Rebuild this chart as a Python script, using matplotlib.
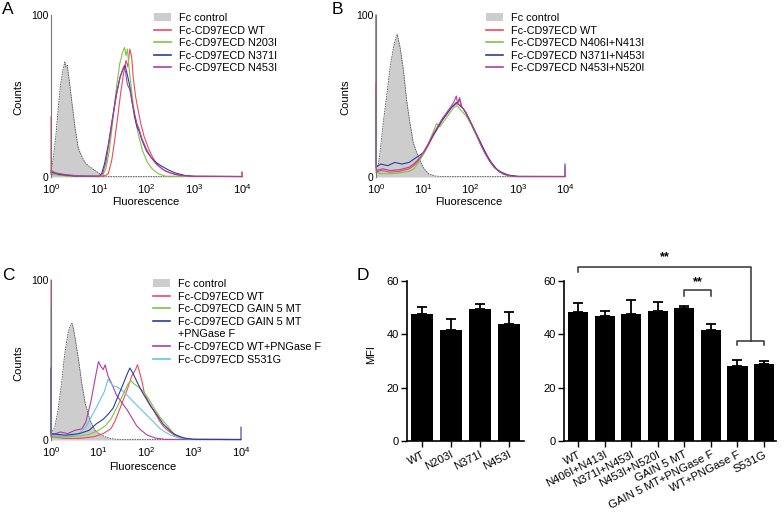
import matplotlib
matplotlib.use('Agg')
import matplotlib.pyplot as plt
from matplotlib.patches import Patch
from matplotlib.lines import Line2D
import numpy as np

plt.rcParams['font.family'] = ['Liberation Sans', 'DejaVu Sans']
plt.rcParams['mathtext.fontset'] = 'custom'
plt.rcParams['mathtext.rm'] = 'Liberation Sans'

# ---- flow histograms as (log10 fluorescence, counts) ----
A_CTRL = [(0, 3), (0.05, 12), (0.1, 25), (0.15, 42), (0.2, 57), (0.25, 66), (0.29, 71), (0.31, 68),
          (0.34, 69), (0.38, 60), (0.43, 48), (0.5, 31), (0.57, 18), (0.64, 13), (0.71, 9), (0.8, 6.5),
          (0.92, 4), (1.02, 2.2), (1.12, 0.7), (1.2, 0.3), (4.0, 0.3)]
A_WT = [(0, 37), (0, 1.5), (0.15, 1.5), (0.3, 0.8), (0.6, 0.4), (1.1, 0.3), (1.2, 2), (1.27, 10), (1.33, 22),
        (1.4, 38), (1.46, 52), (1.52, 64), (1.57, 72), (1.61, 68), (1.65, 79), (1.69, 74), (1.72, 62),
        (1.77, 50), (1.82, 42), (1.88, 33), (1.95, 25), (2.05, 17), (2.15, 11), (2.25, 7), (2.4, 3.5),
        (2.6, 1.5), (2.9, 0.4), (4.0, 0.3), (4.0, 3)]
A_N203I = [(0, 2), (0.2, 1), (0.5, 0.4), (1.0, 0.3), (1.08, 1), (1.15, 5), (1.22, 16), (1.3, 36), (1.37, 55),
           (1.44, 70), (1.5, 77), (1.54, 80), (1.57, 75), (1.6, 79), (1.64, 66), (1.7, 50), (1.76, 37),
           (1.83, 26), (1.92, 16), (2.02, 9), (2.12, 5), (2.25, 2), (2.4, 0.5), (4.0, 0.3)]
A_N371I = [(0, 3), (0.2, 1.5), (0.5, 0.6), (1.0, 0.5), (1.06, 2), (1.12, 8), (1.2, 20), (1.28, 35), (1.36, 50),
           (1.44, 61), (1.5, 66), (1.55, 69), (1.6, 63), (1.65, 56), (1.7, 46), (1.75, 37), (1.8, 31),
           (1.85, 28), (1.9, 23), (2.0, 16), (2.1, 12), (2.2, 9), (2.3, 7), (2.45, 4.5), (2.6, 2.5),
           (2.8, 1), (3.0, 0.4), (4.0, 0.3)]
A_N453I = [(0, 4), (0.1, 2.5), (0.3, 1.5), (0.6, 0.6), (1.0, 0.4), (1.08, 2), (1.15, 9), (1.22, 22), (1.3, 38),
           (1.38, 52), (1.45, 62), (1.52, 68), (1.56, 65), (1.6, 57), (1.65, 54), (1.7, 46), (1.75, 39),
           (1.8, 33), (1.85, 29), (1.9, 24), (2.0, 17), (2.1, 12), (2.2, 8), (2.35, 4.5), (2.5, 2.5),
           (2.7, 1), (3.0, 0.4), (4.0, 0.3), (4.0, 3)]

B_CTRL = [(0, 5), (0.05, 8), (0.08, 14), (0.16, 35), (0.23, 51), (0.3, 68), (0.37, 80), (0.42, 86), (0.45, 88),
          (0.48, 84), (0.51, 80), (0.58, 66), (0.65, 47), (0.72, 33), (0.79, 21), (0.9, 12), (1.0, 6),
          (1.11, 2), (1.25, 0.6), (1.4, 0.3), (4.0, 0.3)]
B_WT = [(0, 3), (0.1, 4), (0.3, 3), (0.5, 3.5), (0.7, 5), (0.8, 7), (0.9, 10), (1.0, 14), (1.1, 19), (1.2, 25),
        (1.3, 30), (1.4, 35), (1.5, 39), (1.6, 43), (1.7, 45), (1.76, 48), (1.8, 44), (1.9, 40), (2.0, 34),
        (2.1, 28), (2.2, 22), (2.3, 16), (2.4, 11), (2.5, 6.5), (2.6, 3.5), (2.7, 1.8), (2.85, 0.7),
        (3.0, 0.3), (4.0, 0.3)]
B_N406I_N413I = [(0, 3), (0.1, 2), (0.3, 2), (0.5, 2.5), (0.7, 3.5), (0.8, 5), (0.9, 9), (1.0, 14), (1.1, 20),
                 (1.2, 27), (1.28, 33), (1.35, 31), (1.45, 35), (1.55, 39), (1.65, 43), (1.72, 44), (1.8, 41),
                 (1.9, 38), (2.0, 33), (2.1, 27), (2.2, 21), (2.3, 15), (2.4, 10), (2.5, 6), (2.6, 3.5),
                 (2.7, 1.6), (2.85, 0.6), (3.0, 0.3), (4.0, 0.3)]
B_N371I_N453I = [(0, 100), (0, 6), (0.1, 8), (0.25, 7), (0.4, 9), (0.55, 8), (0.7, 9), (0.8, 11), (0.9, 13),
                 (1.0, 15), (1.1, 20), (1.2, 25), (1.3, 30), (1.4, 35), (1.5, 39), (1.6, 43), (1.7, 46),
                 (1.78, 44), (1.85, 42), (1.95, 37), (2.05, 31), (2.15, 25), (2.25, 19), (2.35, 13),
                 (2.45, 8.5), (2.55, 5), (2.65, 3), (2.8, 1.2), (3.0, 0.4), (4.0, 0.3), (4.0, 8)]
B_N453I_N520I = [(0, 58), (0, 4), (0.15, 5), (0.3, 4), (0.5, 4.5), (0.7, 6), (0.8, 8), (0.9, 11), (1.0, 15),
                 (1.1, 20), (1.2, 26), (1.3, 31), (1.4, 36), (1.5, 40), (1.6, 44), (1.66, 47), (1.7, 50),
                 (1.73, 45), (1.77, 49), (1.82, 43), (1.9, 40), (2.0, 34), (2.1, 28), (2.2, 21), (2.3, 15),
                 (2.4, 10), (2.5, 6), (2.6, 3.5), (2.7, 1.8), (2.85, 0.6), (3.0, 0.3), (4.0, 0.3), (4.0, 6)]

C_CTRL = [(0, 4), (0.08, 8), (0.15, 19), (0.22, 35), (0.29, 54), (0.36, 67), (0.4, 71), (0.44, 73), (0.47, 70),
          (0.5, 65), (0.58, 50), (0.65, 35), (0.72, 23), (0.82, 12.5), (0.93, 6), (1.03, 3.7), (1.14, 2),
          (1.24, 1), (1.38, 0.4), (4.0, 0.3)]
C_WT = [(0, 100), (0, 2), (0.3, 1), (0.6, 1), (0.9, 2), (1.1, 4), (1.26, 7), (1.35, 12), (1.43, 18), (1.52, 25),
        (1.61, 32), (1.7, 40), (1.78, 44), (1.82, 47), (1.86, 43), (1.92, 36), (1.96, 30), (2.05, 24),
        (2.17, 18), (2.28, 12), (2.38, 8), (2.5, 5), (2.6, 3), (2.8, 1.2), (3.0, 0.4), (4.0, 0.3)]
C_GAIN5 = [(0, 2), (0.3, 2), (0.6, 2.5), (0.8, 3.5), (1.0, 6), (1.15, 9), (1.26, 13), (1.4, 21), (1.54, 30),
           (1.62, 35), (1.68, 37), (1.75, 35), (1.85, 33), (1.95, 30), (2.05, 26), (2.17, 20), (2.3, 14),
           (2.45, 9), (2.55, 5), (2.66, 2), (2.8, 0.8), (3.0, 0.3), (4.0, 0.3)]
C_GAIN5_PNG = [(0, 45), (0, 4), (0.3, 3), (0.6, 4), (0.8, 6), (0.95, 10), (1.1, 13), (1.2, 16), (1.31, 20),
               (1.42, 28), (1.52, 35), (1.6, 41), (1.66, 45), (1.72, 42), (1.8, 37), (1.9, 31), (2.0, 26),
               (2.1, 21), (2.2, 17), (2.36, 10), (2.5, 6), (2.6, 3.5), (2.8, 1.2), (3.0, 0.4), (4.0, 0.3),
               (4.0, 8)]
C_WT_PNG = [(0, 3), (0.2, 5), (0.35, 4), (0.5, 6), (0.65, 7), (0.73, 11), (0.84, 24), (0.94, 40), (1.0, 49),
            (1.05, 46), (1.1, 44), (1.14, 47), (1.2, 40), (1.28, 35), (1.38, 28), (1.5, 23), (1.6, 19),
            (1.7, 14), (1.8, 9), (1.9, 6), (2.03, 3), (2.2, 1.2), (2.4, 0.4), (4.0, 0.3)]
C_S531G = [(0, 83), (0, 3), (0.3, 2.5), (0.5, 3), (0.63, 5), (0.75, 9), (0.84, 14), (0.95, 20), (1.05, 26),
           (1.12, 30), (1.2, 38), (1.25, 36), (1.3, 34), (1.4, 33), (1.5, 31), (1.6, 28), (1.7, 25), (1.8, 22),
           (1.9, 19), (2.0, 16), (2.1, 13), (2.2, 10), (2.3, 7), (2.4, 5), (2.52, 3), (2.7, 1.2), (3.0, 0.4),
           (4.0, 0.3)]

A_LABELS = ['Fc control', 'Fc-CD97ECD WT', 'Fc-CD97ECD N203I', 'Fc-CD97ECD N371I', 'Fc-CD97ECD N453I']
B_LABELS = ['Fc control', 'Fc-CD97ECD WT', 'Fc-CD97ECD N406I+N413I', 'Fc-CD97ECD N371I+N453I',
            'Fc-CD97ECD N453I+N520I']
C_LABELS = ['Fc control', 'Fc-CD97ECD WT', 'Fc-CD97ECD GAIN 5 MT', 'Fc-CD97ECD GAIN 5 MT',
            '+PNGase F', 'Fc-CD97ECD WT+PNGase F', 'Fc-CD97ECD S531G']

# ---- MFI bars (panel D) ----
D_LEFT_CATS = ['WT', 'N203I', 'N371I', 'N453I']
D_LEFT_MFI = [47.5, 41.8, 49.6, 43.9]
D_LEFT_ERR = [2.9, 4.1, 1.8, 4.5]
D_RIGHT_CATS = ['WT', 'N406I+N413I', 'N371I+N453I', 'N453I+N520I', 'GAIN 5 MT',
                'GAIN 5 MT+PNGase F', 'WT+PNGase F', 'S531G']
D_RIGHT_MFI = [48.4, 46.9, 47.5, 48.6, 50.0, 41.5, 28.1, 28.9]
D_RIGHT_ERR = [3.4, 1.9, 5.3, 3.4, 0.75, 2.2, 2.1, 1.1]

RED = '#ee4a5c'
GREEN = '#80c441'
BLUE = '#2e3c9c'
MAGENTA = '#b43c9e'
CYAN = '#62c6e6'
CTRL_FILL = '#cdcdcd'

W, H = 784, 515
fig = plt.figure(figsize=(W / 100, H / 100), dpi=100)


def box(l, t, r, b):
    return [l / W, 1 - b / H, (r - l) / W, (b - t) / H]


def fxy(x, y):
    return x / W, 1 - y / H


def histo(ax, ctrl, traces, colors):
    lx, c = np.array(ctrl).T
    ax.fill_between(10 ** lx, c, color=CTRL_FILL, lw=0)
    ax.plot(10 ** lx, c, color='#555555', lw=0.6, ls=(0, (2, 1)))
    for tr, col in zip(traces, colors):
        lx, c = np.array(tr).T
        ax.plot(10 ** lx, c, color=col, lw=0.8, clip_on=False)
    ax.set_xscale('log')
    ax.set_xlim(1, 1e4)
    ax.set_ylim(0, 100)
    ax.set_xticks([1, 10, 100, 1000, 10000])
    ax.set_xticklabels([r'$\mathregular{10^{%d}}$' % i for i in range(5)])
    ax.minorticks_off()
    ax.set_yticks([0, 100])
    ax.tick_params(axis='x', length=0, labelsize=8, pad=4)
    ax.tick_params(axis='y', length=0, labelsize=7.5, pad=2)
    for s in ['top', 'right', 'bottom']:
        ax.spines[s].set_visible(False)
    ax.spines['left'].set_color('#777777')
    ax.spines['left'].set_linewidth(0.8)


def legend(ax, labels, colors, x, y, blank=None):
    handles = [Patch(facecolor=CTRL_FILL, edgecolor='none')]
    for c in colors:
        handles.append(Line2D([], [], color=c, lw=1.2))
    if blank is not None:
        handles.insert(blank, Line2D([], [], color='none'))
    ax.legend(handles, labels, loc='upper left', bbox_to_anchor=fxy(x, y),
              bbox_transform=fig.transFigure, frameon=False, fontsize=7.8,
              handlelength=1.6, handleheight=0.8, handletextpad=0.7,
              labelspacing=0.24, borderpad=0, borderaxespad=0)


# A
axA = fig.add_axes(box(51, 15, 242, 177))
histo(axA, A_CTRL, [A_WT, A_N203I, A_N371I, A_N453I], [RED, GREEN, BLUE, MAGENTA])
legend(axA, A_LABELS, [RED, GREEN, BLUE, MAGENTA], 154, 13)

# B
axB = fig.add_axes(box(376, 15, 565, 177))
histo(axB, B_CTRL, [B_WT, B_N406I_N413I, B_N371I_N453I, B_N453I_N520I], [RED, GREEN, BLUE, MAGENTA])
legend(axB, B_LABELS, [RED, GREEN, BLUE, MAGENTA], 486, 13)

# C
axC = fig.add_axes(box(51, 280, 241, 440))
histo(axC, C_CTRL, [C_WT, C_GAIN5, C_WT_PNG, C_S531G, C_GAIN5_PNG], [RED, GREEN, MAGENTA, CYAN, BLUE])
legend(axC, C_LABELS, [RED, GREEN, BLUE, MAGENTA, CYAN], 153, 279, blank=4)

for ax_x, ax_y, fl_x, fl_y in [(18, 97, 146, 202), (345, 97, 469, 202), (18, 363, 143, 467)]:
    fig.text(*fxy(ax_x, ax_y), 'Counts', rotation=90, ha='center', va='center', fontsize=8)
    fig.text(*fxy(fl_x, fl_y), 'Fluorescence', ha='center', va='center', fontsize=8)

for letter, x, y in [('A', 8, 10), ('B', 337, 10), ('C', 8, 275), ('D', 363, 275)]:
    fig.text(*fxy(x, y), letter, ha='center', va='center', fontsize=12.5)


# D
def bars(ax, cats, vals, errs, lim):
    idx = np.arange(len(cats))
    ax.bar(idx, vals, width=0.76, color='black',
           yerr=[np.zeros(len(vals)), errs], capsize=3.5,
           error_kw=dict(lw=1.3, capthick=1.3, ecolor='black'))
    ax.set_xlim(*lim)
    ax.set_ylim(0, 60)
    ax.set_yticks([0, 20, 40, 60])
    ax.set_xticks(idx)
    ax.set_xticklabels(cats, rotation=27, ha='right', va='top', rotation_mode='anchor', fontsize=8.2)
    ax.tick_params(direction='out', length=4, width=1, pad=2)
    ax.tick_params(axis='y', labelsize=8)
    for s in ['top', 'right']:
        ax.spines[s].set_visible(False)
    for s in ['left', 'bottom']:
        ax.spines[s].set_linewidth(1.2)


axD1 = fig.add_axes(box(407, 281, 524, 441))
bars(axD1, D_LEFT_CATS, D_LEFT_MFI, D_LEFT_ERR, (-0.52, 3.52))
axD2 = fig.add_axes(box(564, 281, 776, 441))
bars(axD2, D_RIGHT_CATS, D_RIGHT_MFI, D_RIGHT_ERR, (-0.53, 7.45))
fig.text(*fxy(371, 355), 'MFI', rotation=90, ha='center', va='center', fontsize=8)

# significance brackets
kw = dict(color='#333333', lw=1.1, clip_on=False)
axD2.plot([0, 0, 6.5, 6.5], [63.5, 65.4, 65.4, 37.6], **kw)
axD2.plot([6, 6, 7, 7], [36, 37.6, 37.6, 36], **kw)
axD2.plot([4, 4, 5, 5], [54.5, 56.6, 56.6, 54.5], **kw)
axD2.text(3.25, 66.6, '**', ha='center', va='bottom', fontsize=9, fontweight='bold')
axD2.text(4.5, 57.2, '**', ha='center', va='bottom', fontsize=9, fontweight='bold')

fig.savefig('out.png', dpi=100)
